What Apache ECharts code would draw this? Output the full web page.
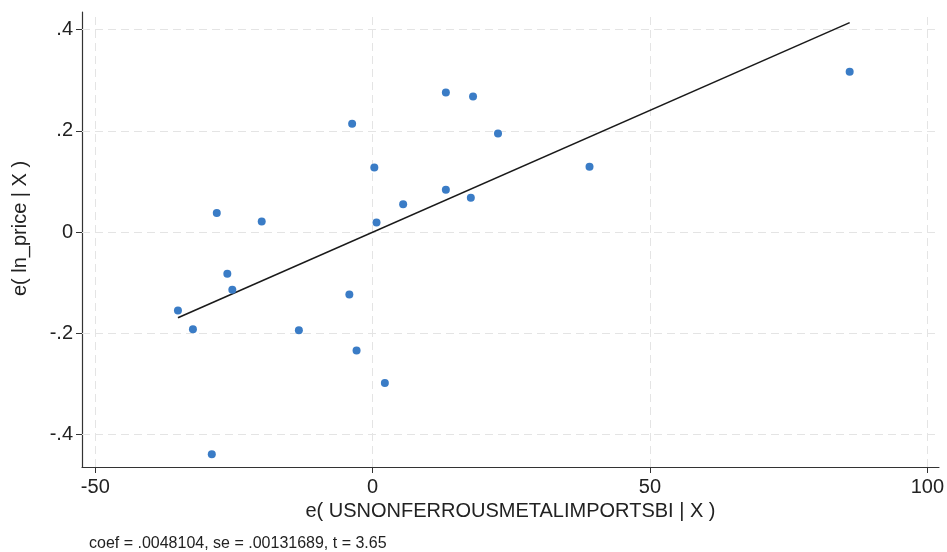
<!DOCTYPE html>
<html>
<head>
<meta charset="utf-8">
<script src="https://cdn.jsdelivr.net/npm/echarts@6/dist/echarts.min.js"></script>
<style>html,body{margin:0;padding:0;background:#fff}#c{width:947px;height:552px}</style>
</head>
<body>
<div id="c"></div>
<script>
// residual of x (USNONFERROUSMETALIMPORTSBI | X)
const xVals = [-35.1, -32.4, -28.1, -26.2, -25.3, -20.0, -29.0, -13.3, -4.2, -2.9, 2.2, -3.7, 0.3, 0.7, 5.5, 13.2, 13.2, 18.1, 17.7, 22.6, 39.1, 86.0];
// residual of y (ln_price | X)
const yVals = [-0.155, -0.192, 0.038, -0.082, -0.114, 0.021, -0.439, -0.194, -0.123, -0.234, -0.298, 0.214, 0.128, 0.019, 0.055, 0.276, 0.084, 0.268, 0.068, 0.195, 0.129, 0.317];
// fitted line endpoints
const fitX = [-35.1, 86.0];
const fitY = [-0.169, 0.414];
// ticks
const xTicks = [-50, 0, 50, 100];
const xTickLabels = ['-50', '0', '50', '100'];
const yTicks = [-0.4, -0.2, 0, 0.2, 0.4];
const yTickLabels = ['-.4', '-.2', '0', '.2', '.4'];
const xTitle = 'e( USNONFERROUSMETALIMPORTSBI | X )';
const yTitle = 'e( ln_price | X )';
const note = 'coef = .0048104, se = .00131689, t = 3.65';

const pts = xVals.map((x, i) => [x, yVals[i]]);
const fit = fitX.map((x, i) => [x, fitY[i]]);
const txt = '#222';
const font = 'Liberation Sans, Arial, sans-serif';

const chart = echarts.init(document.getElementById('c'), null, {renderer: 'canvas'});
chart.setOption({
  animation: false,
  backgroundColor: '#fff',
  title: {
    text: note, left: 84, top: 531,
    textStyle: {fontSize: 16, fontWeight: 'normal', color: txt, fontFamily: font}
  },
  grid: {left: 82, top: 12, right: 5, bottom: 85, containLabel: false},
  xAxis: {
    type: 'value', min: -52.4, max: 102.1,
    name: xTitle, nameLocation: 'middle', nameGap: 30,
    nameTextStyle: {fontSize: 20, color: txt, fontFamily: font},
    axisLine: {show: true, onZero: false, lineStyle: {color: '#333', width: 1.2}},
    axisTick: {show: true, length: 6, customValues: xTicks, lineStyle: {color: '#333'}},
    axisLabel: {customValues: xTicks, fontSize: 20, color: txt, fontFamily: font, margin: 10,
      formatter: v => xTickLabels[xTicks.indexOf(v)] ?? String(v)},
    splitLine: {show: false}
  },
  yAxis: {
    type: 'value', min: -0.464, max: 0.435,
    name: yTitle, nameLocation: 'middle', nameGap: 52,
    nameTextStyle: {fontSize: 20, color: txt, fontFamily: font, padding: [0, 0, 0, 22]},
    axisLine: {show: true, onZero: false, lineStyle: {color: '#333', width: 1.2}},
    axisTick: {show: true, length: 6, customValues: yTicks, lineStyle: {color: '#333'}},
    axisLabel: {customValues: yTicks, fontSize: 20, color: txt, fontFamily: font, margin: 9,
      formatter: v => yTickLabels[yTicks.indexOf(v)] ?? String(v)},
    splitLine: {show: false}
  },
  series: [
    {
      type: 'line', data: [], z: 1,
      markLine: {
        silent: true, symbol: 'none', z: 1, animation: false,
        label: {show: false},
        lineStyle: {color: '#e4e4e4', width: 1, type: [8, 5]},
        data: xTicks.map(v => ({xAxis: v})).concat(yTicks.map(v => ({yAxis: v})))
      }
    },
    {
      type: 'line', data: fit, showSymbol: false, symbol: 'none', z: 3,
      lineStyle: {color: '#1a1a1a', width: 1.6}
    },
    {
      type: 'scatter', data: pts, symbolSize: 8, z: 4,
      itemStyle: {color: '#3a7cc6', opacity: 1}
    }
  ]
});
</script>
</body>
</html>
